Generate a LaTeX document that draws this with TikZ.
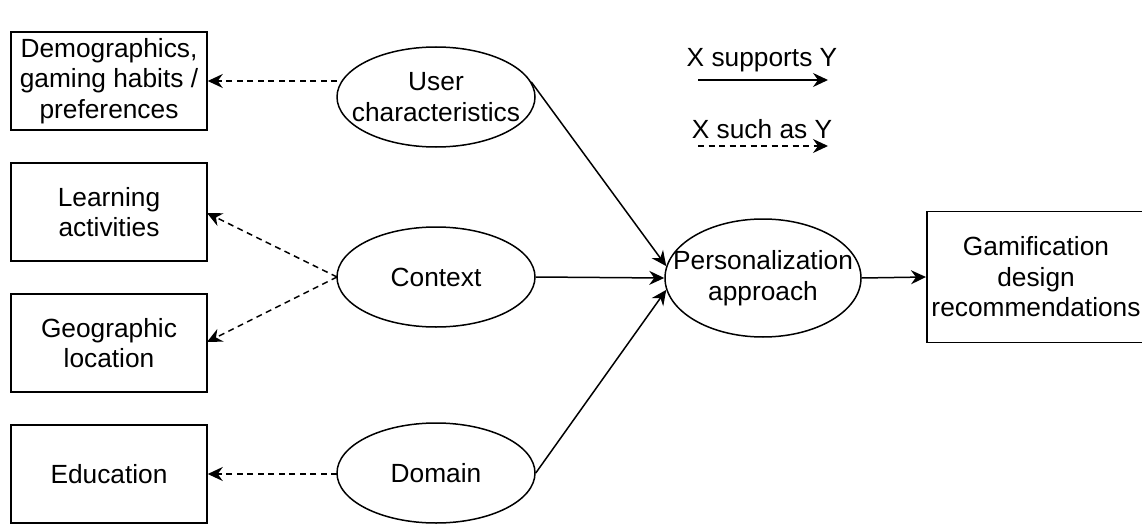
\documentclass[tikz,border=0pt]{standalone}
\usepackage{fontspec}
\setmainfont{Liberation Sans}
\usetikzlibrary{shapes.geometric,arrows.meta}
\begin{document}
\begin{tikzpicture}[x=1pt,y=-1pt,
  every node/.style={font=\fontsize{26.3}{30.5}\selectfont, align=center, inner sep=0pt, line width=1.5pt},
  box/.style={draw, minimum width=196pt, minimum height=98pt},
  oval/.style={draw, ellipse, inner xsep=-35pt, minimum width=198pt, minimum height=100pt},
  sup/.style={line width=1.5pt, -{Stealth[length=15pt,width=14pt,inset=5pt]}},
  such/.style={sup, dash pattern=on 6pt off 4.5pt}]
\useasboundingbox (0,0) rectangle (1142,532);
% boxes
\node[box] (demo) at (109,81) {Demographics,\\gaming habits /\\preferences};
\node[box] (learn) at (109,212) {Learning\\activities};
\node[box] (geo) at (109,343) {Geographic\\location};
\node[box] (edu) at (109,474) {Education};
% ellipses
\node[oval] (user) at (436,97) {User\\characteristics};
\node[oval] (ctx) at (436,277) {Context};
\node[oval] (dom) at (436,473) {Domain};
\node[oval, minimum width=196pt, minimum height=118pt] (pers) at (763,278) {Personalization\\approach};
\node[draw, minimum width=222pt, minimum height=131pt, anchor=west] (gam) at (926,277) {};
\node at (1036,277) {Gamification\\design\\recommendations};
% coordinates
\coordinate (co) at (337,277);
\coordinate (ui) at (337,81);
\coordinate (di) at (337,474);
\coordinate (li) at (207,213);
\coordinate (gi) at (207,342);
% dashed
\draw[such] (ui) -- (ui -| demo.east);
\draw[such] (co) -- (li);
\draw[such] (co) -- (gi);
\draw[such] (di) -- (di -| edu.east);
% solid
\draw[sup] (user.9) -- (pers.173);
\draw[sup] (ctx.east) -- (pers.west);
\draw[sup] (dom.east) -- (pers.187);
\draw[sup] (pers.east) -- (gam.west);
% legend
\node (l1) at (762,60) {X supports Y};
\coordinate (a1) at (698,80);
\coordinate (b1) at (828,80);
\draw[sup] (a1) -- (b1);
\node (l2) at (762,129) {X such as Y};
\coordinate (a2) at (698,146);
\coordinate (b2) at (828,146);
\draw[such] (a2) -- (b2);
\end{tikzpicture}
\end{document}
